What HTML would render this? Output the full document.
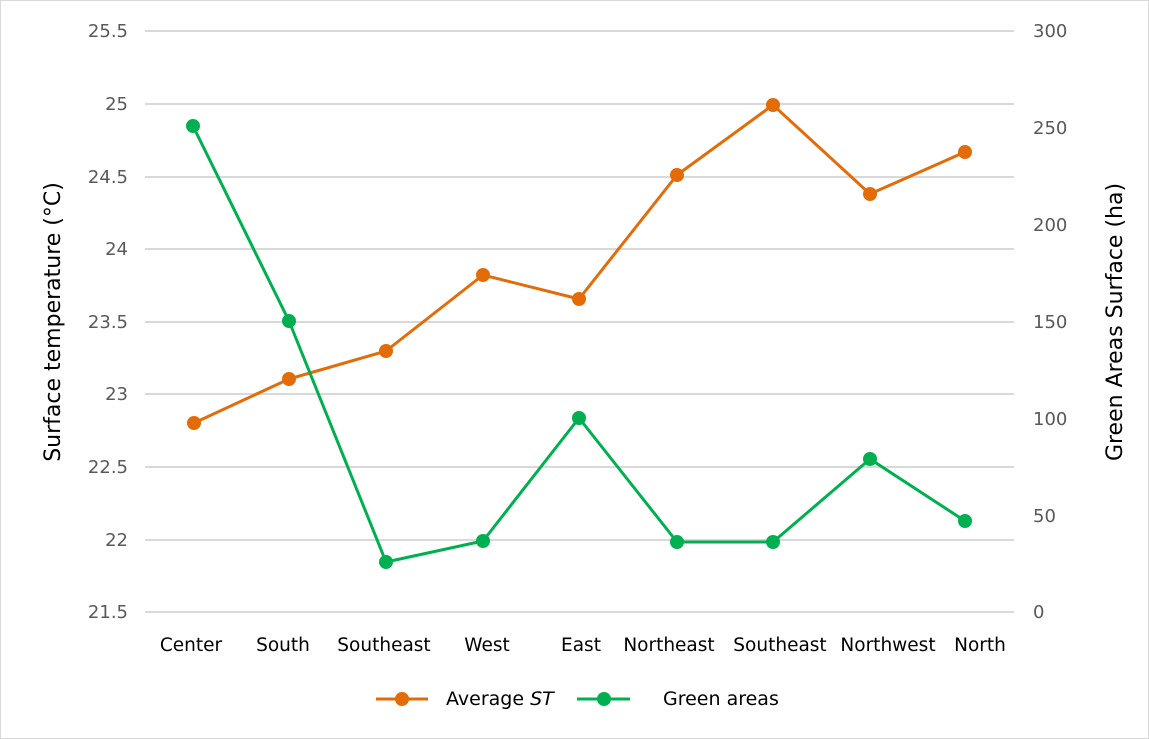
<!DOCTYPE html>
<html><head><meta charset="utf-8"><style>
html,body{margin:0;padding:0;background:#fff}
svg{display:block;font-family:"DejaVu Sans","Liberation Sans",sans-serif}
</style></head><body>
<svg width="1149" height="739" viewBox="0 0 1149 739">
<rect x="0.5" y="0.5" width="1148" height="738" fill="#fff" stroke="#d9d9d9"/>
<g stroke="#d9d9d9" stroke-width="2">
<line x1="145" x2="1014" y1="31" y2="31"/><line x1="145" x2="1014" y1="104" y2="104"/>
<line x1="145" x2="1014" y1="177" y2="177"/><line x1="145" x2="1014" y1="249" y2="249"/>
<line x1="145" x2="1014" y1="322" y2="322"/><line x1="145" x2="1014" y1="394" y2="394"/>
<line x1="145" x2="1014" y1="467" y2="467"/><line x1="145" x2="1014" y1="540" y2="540"/>
<line x1="145" x2="1014" y1="612" y2="612"/>
</g>
<g font-size="18" fill="#595959" text-anchor="end">
<text x="128" y="37">25.5</text><text x="128" y="110">25</text><text x="128" y="183">24.5</text>
<text x="128" y="255">24</text><text x="128" y="328">23.5</text><text x="128" y="400">23</text>
<text x="128" y="473">22.5</text><text x="128" y="546">22</text><text x="128" y="618">21.5</text>
</g>
<g font-size="18" fill="#595959" text-anchor="start">
<text x="1033" y="37">300</text><text x="1033" y="134">250</text><text x="1033" y="231">200</text>
<text x="1033" y="328">150</text><text x="1033" y="425">100</text><text x="1033" y="522">50</text>
<text x="1033" y="618">0</text>
</g>
<g font-size="18.5" fill="#000" text-anchor="middle">
<text x="191" y="651">Center</text><text x="283" y="651">South</text><text x="384" y="651">Southeast</text>
<text x="487" y="651">West</text><text x="581" y="651">East</text><text x="669" y="651">Northeast</text>
<text x="780" y="651">Southeast</text><text x="888" y="651">Northwest</text><text x="980" y="651">North</text>
</g>
<text transform="translate(60,322) rotate(-90)" font-size="22" fill="#000" text-anchor="middle">Surface temperature (°C)</text>
<text transform="translate(1122,322) rotate(-90)" font-size="22" fill="#000" text-anchor="middle">Green Areas Surface (ha)</text>
<g fill="none" stroke-width="3" stroke-linejoin="round">
<polyline stroke="#e36c09" points="194,423 289,379 386,351 483,275 579,299 677,175 773,105 870,194 965,152"/>
<polyline stroke="#00b050" points="193,126 289,321 386,562 483,541 579,418 677,542 773,542 870,459 965,521"/>
</g>
<g fill="#e36c09">
<circle cx="194" cy="423" r="7"/><circle cx="289" cy="379" r="7"/><circle cx="386" cy="351" r="7"/>
<circle cx="483" cy="275" r="7"/><circle cx="579" cy="299" r="7"/><circle cx="677" cy="175" r="7"/>
<circle cx="773" cy="105" r="7"/><circle cx="870" cy="194" r="7"/><circle cx="965" cy="152" r="7"/>
</g>
<g fill="#00b050">
<circle cx="193" cy="126" r="7"/><circle cx="289" cy="321" r="7"/><circle cx="386" cy="562" r="7"/>
<circle cx="483" cy="541" r="7"/><circle cx="579" cy="418" r="7"/><circle cx="677" cy="542" r="7"/>
<circle cx="773" cy="542" r="7"/><circle cx="870" cy="459" r="7"/><circle cx="965" cy="521" r="7"/>
</g>
<line x1="376" x2="428" y1="699" y2="699" stroke="#e36c09" stroke-width="3"/>
<circle cx="402" cy="699" r="7" fill="#e36c09"/>
<text x="446" y="705" font-size="19" fill="#000">Average <tspan font-style="italic">ST</tspan></text>
<line x1="577" x2="630" y1="699" y2="699" stroke="#00b050" stroke-width="3"/>
<circle cx="604" cy="699" r="7" fill="#00b050"/>
<text x="663" y="705" font-size="19" fill="#000">Green areas</text>
</svg>
</body></html>
